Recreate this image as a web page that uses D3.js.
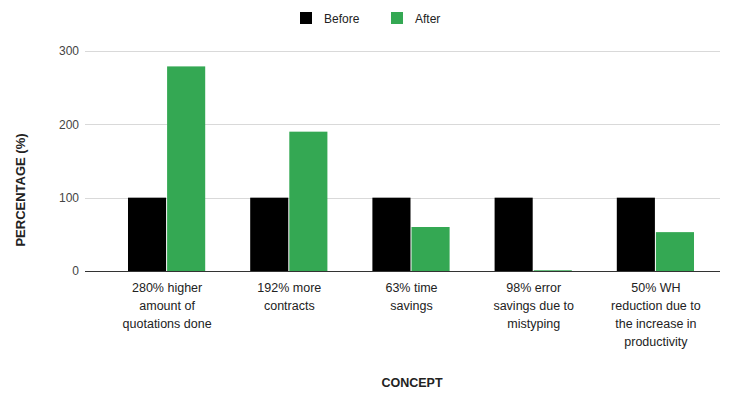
<!DOCTYPE html>
<html>
<head>
<meta charset="utf-8">
<script src="https://cdn.jsdelivr.net/npm/d3@7"></script>
<style>
body { margin: 0; background: #fff; }
text { font-family: "Liberation Sans", Arial, sans-serif; }
</style>
</head>
<body>
<div id="chart-area"></div>
<script>
var categories = [
    ["280% higher", "amount of", "quotations done"],
    ["192% more", "contracts"],
    ["63% time", "savings"],
    ["98% error", "savings due to", "mistyping"],
    ["50% WH", "reduction due to", "the increase in", "productivity"]
];
var seriesNames = ["Before", "After"];
var before = [100, 100, 100, 100, 100];
var after = [279, 190, 60, 1, 53];
var yTicks = [0, 100, 200, 300];
var colors = ["#000000", "#34a853"];

var width = 739, height = 394;

var svg = d3.select("#chart-area")
    .append("svg")
    .attr("width", width)
    .attr("height", height);

var data = categories.map(function(c, i){
    return {id: i, label: c, values: [before[i], after[i]]};
});

var x = d3.scaleBand()
    .domain(data.map(function(d){ return d.id; }))
    .range([106, 717])
    .paddingInner(0.36)
    .paddingOuter(0.18);

var x1 = d3.scaleBand()
    .domain([0, 1])
    .range([0, x.bandwidth()]);

var y = d3.scaleLinear()
    .domain([0, 300])
    .range([271, 51]);

// gridlines
svg.append("g")
    .selectAll("line")
    .data(yTicks)
    .enter()
    .append("line")
    .attr("x1", 85)
    .attr("x2", 720)
    .attr("y1", function(d){ return Math.round(y(d)) + 0.5; })
    .attr("y2", function(d){ return Math.round(y(d)) + 0.5; })
    .attr("stroke", function(d){ return d === 0 ? "#333" : "#d9d9d9"; })
    .attr("stroke-width", 1);

// y axis labels
var yAxisCall = d3.axisLeft(y).tickValues(yTicks).tickSize(0).tickPadding(0);
var yAxis = svg.append("g")
    .attr("transform", "translate(79,0)")
    .call(yAxisCall);
yAxis.select(".domain").remove();
yAxis.selectAll("text")
    .attr("font-size", "12px")
    .attr("fill", "#444")
    .attr("font-family", "'Liberation Sans', Arial, sans-serif");

// bars
var groups = svg.selectAll("g.group")
    .data(data)
    .enter()
    .append("g")
    .attr("class", "group")
    .attr("transform", function(d){ return "translate(" + x(d.id) + ",0)"; });

groups.selectAll("rect")
    .data(function(d){ return d.values; })
    .enter()
    .append("rect")
    .attr("x", function(d, i){ return x1(i); })
    .attr("y", function(d){ return y(d); })
    .attr("width", x1.bandwidth() - 1)
    .attr("height", function(d){ return y(0) - y(d); })
    .attr("fill", function(d, i){ return colors[i]; });

// category labels
var labels = svg.selectAll("text.cat")
    .data(data)
    .enter()
    .append("text")
    .attr("class", "cat")
    .attr("text-anchor", "middle")
    .attr("font-size", "12.5px")
    .attr("fill", "#222")
    .attr("transform", function(d){
        return "translate(" + (x(d.id) + x.bandwidth() / 2) + ",292)";
    });
labels.selectAll("tspan")
    .data(function(d){ return d.label; })
    .enter()
    .append("tspan")
    .attr("x", 0)
    .attr("y", function(d, i){ return i * 18; })
    .text(function(d){ return d; });

// axis titles
svg.append("text")
    .attr("x", 412)
    .attr("y", 387)
    .attr("text-anchor", "middle")
    .attr("font-size", "12.5px")
    .attr("font-weight", "bold")
    .attr("fill", "#222")
    .text("CONCEPT");

svg.append("text")
    .attr("transform", "translate(25,190) rotate(-90)")
    .attr("text-anchor", "middle")
    .attr("font-size", "13px")
    .attr("font-weight", "bold")
    .attr("fill", "#222")
    .text("PERCENTAGE (%)");

// legend
var legendX = [300, 391];
var legend = svg.selectAll("g.legend")
    .data(seriesNames)
    .enter()
    .append("g")
    .attr("class", "legend")
    .attr("transform", function(d, i){ return "translate(" + legendX[i] + ",12)"; });
legend.append("rect")
    .attr("width", 12)
    .attr("height", 12)
    .attr("fill", function(d, i){ return colors[i]; });
legend.append("text")
    .attr("x", 24)
    .attr("y", 10.5)
    .attr("font-size", "12px")
    .attr("fill", "#222")
    .text(function(d){ return d; });
</script>
</body>
</html>
